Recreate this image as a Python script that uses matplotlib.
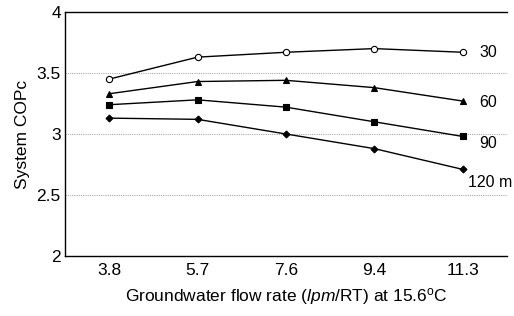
import matplotlib
matplotlib.use("Agg")
import matplotlib.pyplot as plt

plt.rcParams['font.family'] = ['Liberation Sans', 'DejaVu Sans']
plt.rcParams['mathtext.fontset'] = 'custom'
plt.rcParams['mathtext.rm'] = 'Liberation Sans'
plt.rcParams['mathtext.it'] = 'Liberation Sans:italic'

# flow rate categories (lpm/RT)
flow_rates = ['3.8', '5.7', '7.6', '9.4', '11.3']
# system COPc for each bore depth
cop_30 = [3.45, 3.63, 3.67, 3.70, 3.67]
cop_60 = [3.33, 3.43, 3.44, 3.38, 3.27]
cop_90 = [3.24, 3.28, 3.22, 3.10, 2.98]
cop_120 = [3.13, 3.12, 3.00, 2.88, 2.71]
depth_labels = ['30', '60', '90', '120 m']

fig = plt.figure(figsize=(5.14, 3.16), dpi=100)
ax = fig.add_axes([0.1265, 0.19, 0.8595, 0.772])

x = list(range(len(flow_rates)))
series = [cop_30, cop_60, cop_90, cop_120]
markers = [('o', 4.5, 'white'), ('^', 5, 'black'), ('s', 5, 'black'), ('D', 3.5, 'black')]
for vals, (m, ms, fc) in zip(series, markers):
    ax.plot(x, vals, color='black', lw=1, marker=m, markersize=ms,
            markerfacecolor=fc, markeredgecolor='black', markeredgewidth=0.8, zorder=3)

# depth labels to the right of the last point
label_offsets = [0, -0.015, -0.06, -0.11]
label_x = [4.19, 4.19, 4.19, 4.06]
for vals, lab, off, xpos in zip(series, depth_labels, label_offsets, label_x):
    ax.text(xpos, vals[-1] + off, lab, fontsize=11.5, va='center', ha='left')

ax.set_xlim(-0.5, 4.5)
ax.set_ylim(2, 4)
ax.set_yticks([2, 2.5, 3, 3.5, 4])
ax.set_yticklabels(['2', '2.5', '3', '3.5', '4'])
ax.set_xticks(x)
ax.set_xticklabels(flow_rates)
ax.tick_params(axis='both', length=0, labelsize=12.5)
ax.tick_params(axis='x', pad=5)
ax.tick_params(axis='y', pad=3)

for yv in [2.5, 3, 3.5]:
    ax.axhline(yv, color='#aaaaaa', lw=0.8, ls=(0, (1, 1)), zorder=1)

ax.spines['right'].set_visible(False)
for s in ['left', 'bottom', 'top']:
    ax.spines[s].set_linewidth(1)

ax.set_ylabel('System COPc', fontsize=12.5, labelpad=5)
ax.set_xlabel(r'Groundwater flow rate ($\it{lpm}$/RT) at 15.6$^{\rm o}$C', fontsize=12.5, labelpad=6)

fig.savefig('out.png', dpi=100)
